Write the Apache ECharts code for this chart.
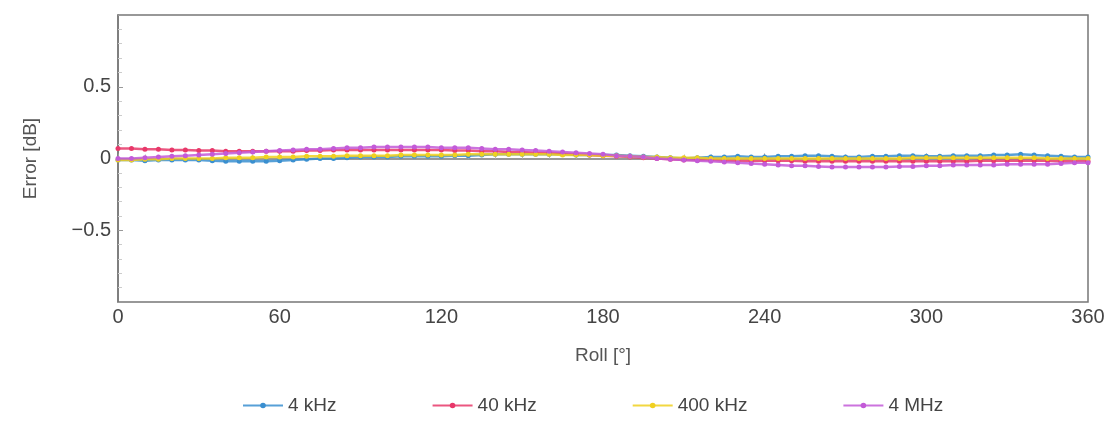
<!DOCTYPE html>
<html>
<head>
<meta charset="utf-8">
<script src="https://cdn.jsdelivr.net/npm/echarts@6/dist/echarts.min.js"></script>
<style>
  html, body { margin: 0; padding: 0; background: #fff; }
  #chart { width: 1109px; height: 422px; }
</style>
</head>
<body>
<div id="chart"></div>
<script>
// roll angle in degrees
const roll = [0, 5, 10, 15, 20, 25, 30, 35, 40, 45, 50, 55, 60,
  65, 70, 75, 80, 85, 90, 95, 100, 105, 110, 115, 120,
  125, 130, 135, 140, 145, 150, 155, 160, 165, 170, 175, 180,
  185, 190, 195, 200, 205, 210, 215, 220, 225, 230, 235, 240,
  245, 250, 255, 260, 265, 270, 275, 280, 285, 290, 295, 300,
  305, 310, 315, 320, 325, 330, 335, 340, 345, 350, 355, 360]

const err4k = [-0.01, -0.01, -0.015, -0.01, -0.01, -0.01, -0.01, -0.015, -0.02, -0.02, -0.02, -0.02, -0.015,
  -0.01, -0.005, 0, 0, 0.005, 0.01, 0.01, 0.01, 0.015, 0.015, 0.015, 0.015,
  0.02, 0.02, 0.025, 0.03, 0.03, 0.03, 0.03, 0.03, 0.03, 0.025, 0.025, 0.025,
  0.025, 0.02, 0.015, 0.01, 0.005, 0, 0.005, 0.01, 0.01, 0.015, 0.01, 0.01,
  0.015, 0.015, 0.02, 0.02, 0.015, 0.01, 0.01, 0.015, 0.015, 0.02, 0.02, 0.015,
  0.015, 0.02, 0.02, 0.02, 0.025, 0.025, 0.03, 0.025, 0.02, 0.015, 0.01, 0.01]

const err40k = [0.07, 0.07, 0.065, 0.065, 0.06, 0.06, 0.055, 0.055, 0.05, 0.05, 0.05, 0.05, 0.05,
  0.05, 0.055, 0.055, 0.06, 0.06, 0.06, 0.06, 0.06, 0.06, 0.06, 0.06, 0.06,
  0.055, 0.055, 0.05, 0.05, 0.045, 0.045, 0.04, 0.04, 0.035, 0.03, 0.025, 0.02,
  0.015, 0.01, 0.005, 0, -0.005, -0.01, -0.01, -0.01, -0.015, -0.015, -0.015, -0.015,
  -0.015, -0.015, -0.02, -0.02, -0.02, -0.02, -0.02, -0.02, -0.02, -0.02, -0.02, -0.02,
  -0.02, -0.02, -0.02, -0.015, -0.015, -0.015, -0.015, -0.015, -0.015, -0.02, -0.02, -0.02]

const err400k = [-0.01, -0.01, -0.005, -0.005, 0, 0, 0, 0, 0.005, 0.005, 0.005, 0.01, 0.01,
  0.01, 0.015, 0.015, 0.015, 0.02, 0.02, 0.02, 0.02, 0.025, 0.025, 0.025, 0.025,
  0.025, 0.03, 0.03, 0.03, 0.03, 0.03, 0.03, 0.03, 0.025, 0.025, 0.025, 0.02,
  0.02, 0.015, 0.01, 0.01, 0.005, 0.005, 0.005, 0, 0, 0, 0, 0,
  0, 0, 0, 0, 0, 0, 0, 0, 0, 0, 0.005, 0.005,
  0.005, 0.005, 0.005, 0.005, 0.005, 0.005, 0.005, 0.005, 0, 0, 0, 0]

const err4M = [0, 0, 0.005, 0.01, 0.015, 0.02, 0.025, 0.03, 0.035, 0.04, 0.045, 0.05, 0.055,
  0.06, 0.065, 0.065, 0.07, 0.075, 0.075, 0.08, 0.08, 0.08, 0.08, 0.08, 0.075,
  0.075, 0.075, 0.07, 0.065, 0.065, 0.06, 0.055, 0.05, 0.045, 0.04, 0.035, 0.03,
  0.02, 0.015, 0.01, 0, -0.005, -0.01, -0.015, -0.02, -0.025, -0.03, -0.035, -0.04,
  -0.045, -0.05, -0.05, -0.055, -0.06, -0.06, -0.06, -0.06, -0.06, -0.055, -0.055, -0.05,
  -0.05, -0.045, -0.045, -0.045, -0.045, -0.04, -0.04, -0.04, -0.04, -0.035, -0.03, -0.03]

const names = ['4 kHz', '40 kHz', '400 kHz', '4 MHz']
const colors = ['#3a8fd0', '#e8386a', '#f0d020', '#c35ad8']
const values = [err4k, err40k, err400k, err4M]

const font = "'Liberation Sans', Arial, sans-serif"

function pairs (ys) {
  return roll.map((r, i) => [r, ys[i]])
}

const myChart = echarts.init(document.getElementById('chart'))

const option = {
  animation: false,
  textStyle: { fontFamily: font },
  grid: {
    left: 118,
    right: 21,
    top: 15,
    bottom: 120,
    show: true,
    borderColor: '#777',
    borderWidth: 1.5
  },
  legend: {
    data: names,
    left: 237,
    bottom: 2,
    itemWidth: 40,
    itemHeight: 7,
    itemGap: 95,
    textStyle: { fontSize: 19, color: '#444', fontFamily: font }
  },
  xAxis: {
    type: 'value',
    min: 0,
    max: 360,
    interval: 60,
    name: 'Roll [°]',
    nameLocation: 'middle',
    nameGap: 44,
    nameTextStyle: { fontSize: 19, color: '#555' },
    axisLine: { lineStyle: { color: '#777', width: 1.5 } },
    axisTick: { inside: true, length: 5, lineStyle: { color: '#999' } },
    minorTick: { show: true, splitNumber: 6, length: 4, lineStyle: { color: '#bbb' } },
    axisLabel: { fontSize: 20, color: '#444', margin: 5 },
    splitLine: { show: false }
  },
  yAxis: {
    type: 'value',
    min: -1,
    max: 1,
    interval: 0.5,
    name: 'Error [dB]',
    nameLocation: 'middle',
    nameGap: 78,
    nameTextStyle: { fontSize: 19, color: '#555' },
    axisLine: { lineStyle: { color: '#777', width: 1.5 } },
    axisTick: { inside: true, length: 5, lineStyle: { color: '#999' } },
    minorTick: { show: true, splitNumber: 5, length: 4, lineStyle: { color: '#ccc' } },
    axisLabel: {
      fontSize: 20,
      color: '#444',
      margin: 7,
      formatter: function (v) {
        if (Math.abs(v) === 1) return ''
        if (v < 0) return '\u2212' + Math.abs(v)
        return String(v)
      }
    },
    splitLine: { show: false }
  },
  series: names.map((n, i) => ({
    name: n,
    type: 'line',
    data: pairs(values[i]),
    color: colors[i],
    symbol: 'circle',
    symbolSize: 5,
    lineStyle: { width: 2.5, opacity: 0.85 },
    itemStyle: { color: colors[i] }
  }))
}

myChart.setOption(option)
</script>
</body>
</html>
